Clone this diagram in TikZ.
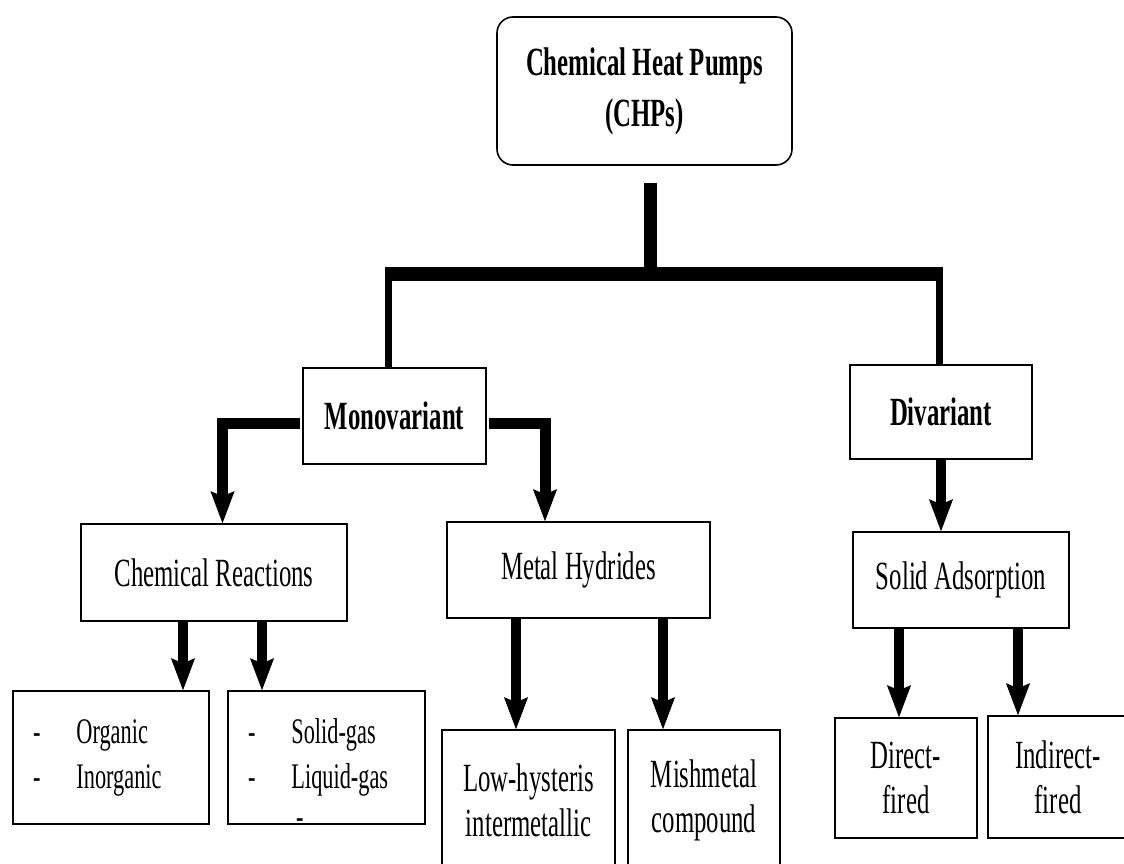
\documentclass[tikz,border=0pt]{standalone}
\usepackage{fontspec}
\setmainfont{Liberation Serif}[FakeStretch=0.62]
\usetikzlibrary{arrows.meta}

\begin{document}
\begin{tikzpicture}[x=1pt,y=-1pt,
	box/.style={draw,line width=1.6pt,inner sep=0pt,align=center,font=\fontsize{40}{45}\selectfont},
	listbox/.style={box,align=left,inner xsep=20pt,text width=#1,font=\fontsize{36}{45}\selectfont},
	flow/.style={line width=10pt,-{Stealth[length=32pt,width=24pt,inset=5pt,line width=1pt]}},
	trunk/.style={line width=13pt},
	bar/.style={line width=14pt},
	leg/.style={line width=7pt}]
\clip (0,0) rectangle (1124,864);
\node[box,rounded corners=16pt,minimum width=295,minimum height=148,font=\bfseries\fontsize{40}{51}\selectfont] (chp) at (644.5,91) {Chemical Heat Pumps\\(CHPs)};
\node[box,minimum width=183,minimum height=96,font=\bfseries\fontsize{40}{45}\selectfont] (mono) at (394.5,416) {Monovariant};
\node[box,minimum width=182,minimum height=94,font=\bfseries\fontsize{40}{45}\selectfont] (di) at (941,412) {Divariant};
\node[box,minimum width=266,minimum height=97] (chemreact) at (214,572.5) {Chemical Reactions};
\node[box,minimum width=263,minimum height=96] (hydride) at (578.5,570) {Metal Hydrides};
\node[box,minimum width=216,minimum height=96] (adsorb) at (961,580) {Solid Adsorption};
\node[listbox=156pt,minimum height=133] (organic) at (111,757.5) {-\hspace{36pt}Organic\\-\hspace{36pt}Inorganic};
\node[listbox=157pt,minimum height=133] (solidgas) at (326.5,757.5) {-\hspace{36pt}Solid-gas\\-\hspace{36pt}Liquid-gas\rlap{\hspace{-92pt}\raisebox{-40pt}[0pt][0pt]{-}}};
\node[box,minimum width=173,minimum height=140] (lowhyst) at (528.5,800) {Low-hysteris\\intermetallic};
\node[box,minimum width=152,minimum height=140] (mishmetal) at (704,800) {Mishmetal\\compound};
\node[box,minimum width=142,minimum height=120] (direct) at (906,778) {Direct-\\fired};
\node[box,minimum width=140,minimum height=122] (indirect) at (1058,777) {Indirect-\\fired};
\coordinate (split) at (650.5,274);
\coordinate (barL) at (385,274);
\coordinate (barR) at (943,274);
\draw[trunk] ([xshift=6pt,yshift=-17pt]chp.south) -- (split);
\draw[bar] (barL) -- (barR);
\draw[leg] ([xshift=3.5pt]barL) -- ([xshift=-6pt]mono.north);
\draw[leg] ([xshift=-3.5pt]barR) -- ([xshift=-1.5pt]di.north);
\draw[flow,line width=11pt] ([xshift=-2pt,yshift=-7.5pt]mono.west) -| ([xshift=8.5pt]chemreact.north);
\draw[flow,line width=11pt] ([xshift=2pt,yshift=-7.5pt]mono.east) -| ([xshift=-33.5pt]hydride.north);
\draw[flow] (di.south) -- (di.south |- adsorb.north);
\draw[flow] ([xshift=-31pt]chemreact.south) -- ([xshift=72pt]organic.north);
\draw[flow] ([xshift=48pt]chemreact.south) -- ([xshift=-64.5pt]solidgas.north);
\draw[flow] ([xshift=-62.5pt]hydride.south) -- ([xshift=-12.5pt]lowhyst.north);
\draw[flow] ([xshift=84.5pt]hydride.south) -- ([xshift=-41pt]mishmetal.north);
\draw[flow] ([xshift=-62pt]adsorb.south) -- ([xshift=-7pt]direct.north);
\draw[flow] ([xshift=57pt]adsorb.south) -- ([xshift=-40pt]indirect.north);
\end{tikzpicture}
\end{document}
